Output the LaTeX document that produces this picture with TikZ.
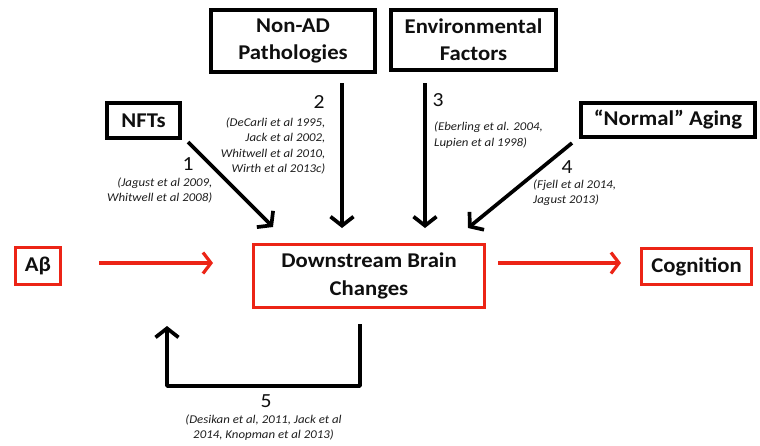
\documentclass[tikz,border=0pt]{standalone}
\usepackage{fontspec}
\setmainfont{Carlito}[FakeStretch=1.08]
\usetikzlibrary{arrows.meta}
\definecolor{bred}{RGB}{236,36,22}
\definecolor{ink}{RGB}{15,15,15}
\definecolor{citeink}{RGB}{30,30,30}
\begin{document}
\begin{tikzpicture}[x=1pt,y=-1pt,
  box/.style={draw=black,line width=3.8pt,font=\bfseries\fontsize{21}{27}\selectfont,text=ink,align=center,inner sep=0pt},
  rbox/.style={draw=bred,line width=2.9pt,font=\bfseries\fontsize{21}{28}\selectfont,text=ink,align=center,inner sep=0pt},
  arr/.style={draw=black,line width=3.7pt,-{Straight Barb[length=9pt,width=23pt,line width=3.7pt]}},
  rarr/.style={draw=bred,line width=3.2pt,-{Straight Barb[length=8pt,width=21pt,line width=3.2pt]}},
  num/.style={font=\fontsize{20}{24}\selectfont,text=ink,inner sep=0pt},
  cite/.style={font=\itshape\fontsize{11.9}{15.3}\selectfont,text=citeink,inner sep=0pt}]
\useasboundingbox[fill=white] (0,0) rectangle (760,445);

% boxes
\node[box,minimum width=164pt,minimum height=62pt] (nonad) at (293,41) {Non-AD\\Pathologies};
\node[box,minimum width=165pt,minimum height=60pt] (env) at (473.5,40) {Environmental\\Factors};
\node[box,minimum width=73pt,minimum height=35pt] (nfts) at (143.5,120.5) {NFTs};
\node[box,minimum width=174pt,minimum height=34pt] (aging) at (668,120) {“Normal” Aging};
\node[rbox,minimum width=45pt,minimum height=37pt] (abeta) at (38,266) {Aβ};
\node[rbox,minimum width=231pt,minimum height=63pt] (down) at (369,276) {Downstream Brain\\Changes};
\node[rbox,minimum width=110pt,minimum height=36pt] (cog) at (696.5,266.5) {Cognition};

% connector end points
\coordinate (n1s) at (188,142);  \coordinate (n1e) at (273,227);
\coordinate (n2s) at (342,83);   \coordinate (n2e) at (342,228);
\coordinate (n3s) at (425,83);   \coordinate (n3e) at (425,228);
\coordinate (n4s) at (572,143);  \coordinate (n4e) at (468,228);
\coordinate (r1s) at (99,263);   \coordinate (r1e) at (213,263);
\coordinate (r2s) at (498,263);  \coordinate (r2e) at (621,263);
\coordinate (f1) at (360,324); \coordinate (f2) at (360,386);
\coordinate (f3) at (167,386); \coordinate (f4) at (167,326);

% connectors
\draw[arr] (n1s) -- (n1e);
\draw[arr] (n2s) -- (n2e);
\draw[arr] (n3s) -- (n3e);
\draw[arr] (n4s) -- (n4e);
\draw[rarr] (r1s) -- (r1e);
\draw[rarr] (r2s) -- (r2e);
\draw[arr,line width=3.4pt,line join=round] (f1) -- (f2) -- (f3) -- (f4);

% labels
\node[num] (l1) at (188,164) {1};
\node[cite,align=right,anchor=east] (c1) at (212.5,190.5) {(Jagust et al 2009,\\Whitwell et al 2008)};
\node[num] (l2) at (319,102) {2};
\node[cite,align=right,anchor=east] (c2) at (325.5,146) {(DeCarli et al 1995,\\Jack et al 2002,\\Whitwell et al 2010,\\Wirth et al 2013c)};
\node[num] (l3) at (438,100) {3};
\node[cite,align=left,anchor=west] (c3) at (434,135) {(Eberling et al. 2004,\\Lupien et al 1998)};
\node[num] (l4) at (567,167.5) {4};
\node[cite,align=left,anchor=west] (c4) at (533,192.5) {(Fjell et al 2014,\\Jagust 2013)};
\node[num] (l5) at (266,401) {5};
\node[cite,align=center] (c5) at (263.5,427.5) {(Desikan et al, 2011, Jack et al\\2014, Knopman et al 2013)};
\end{tikzpicture}
\end{document}
